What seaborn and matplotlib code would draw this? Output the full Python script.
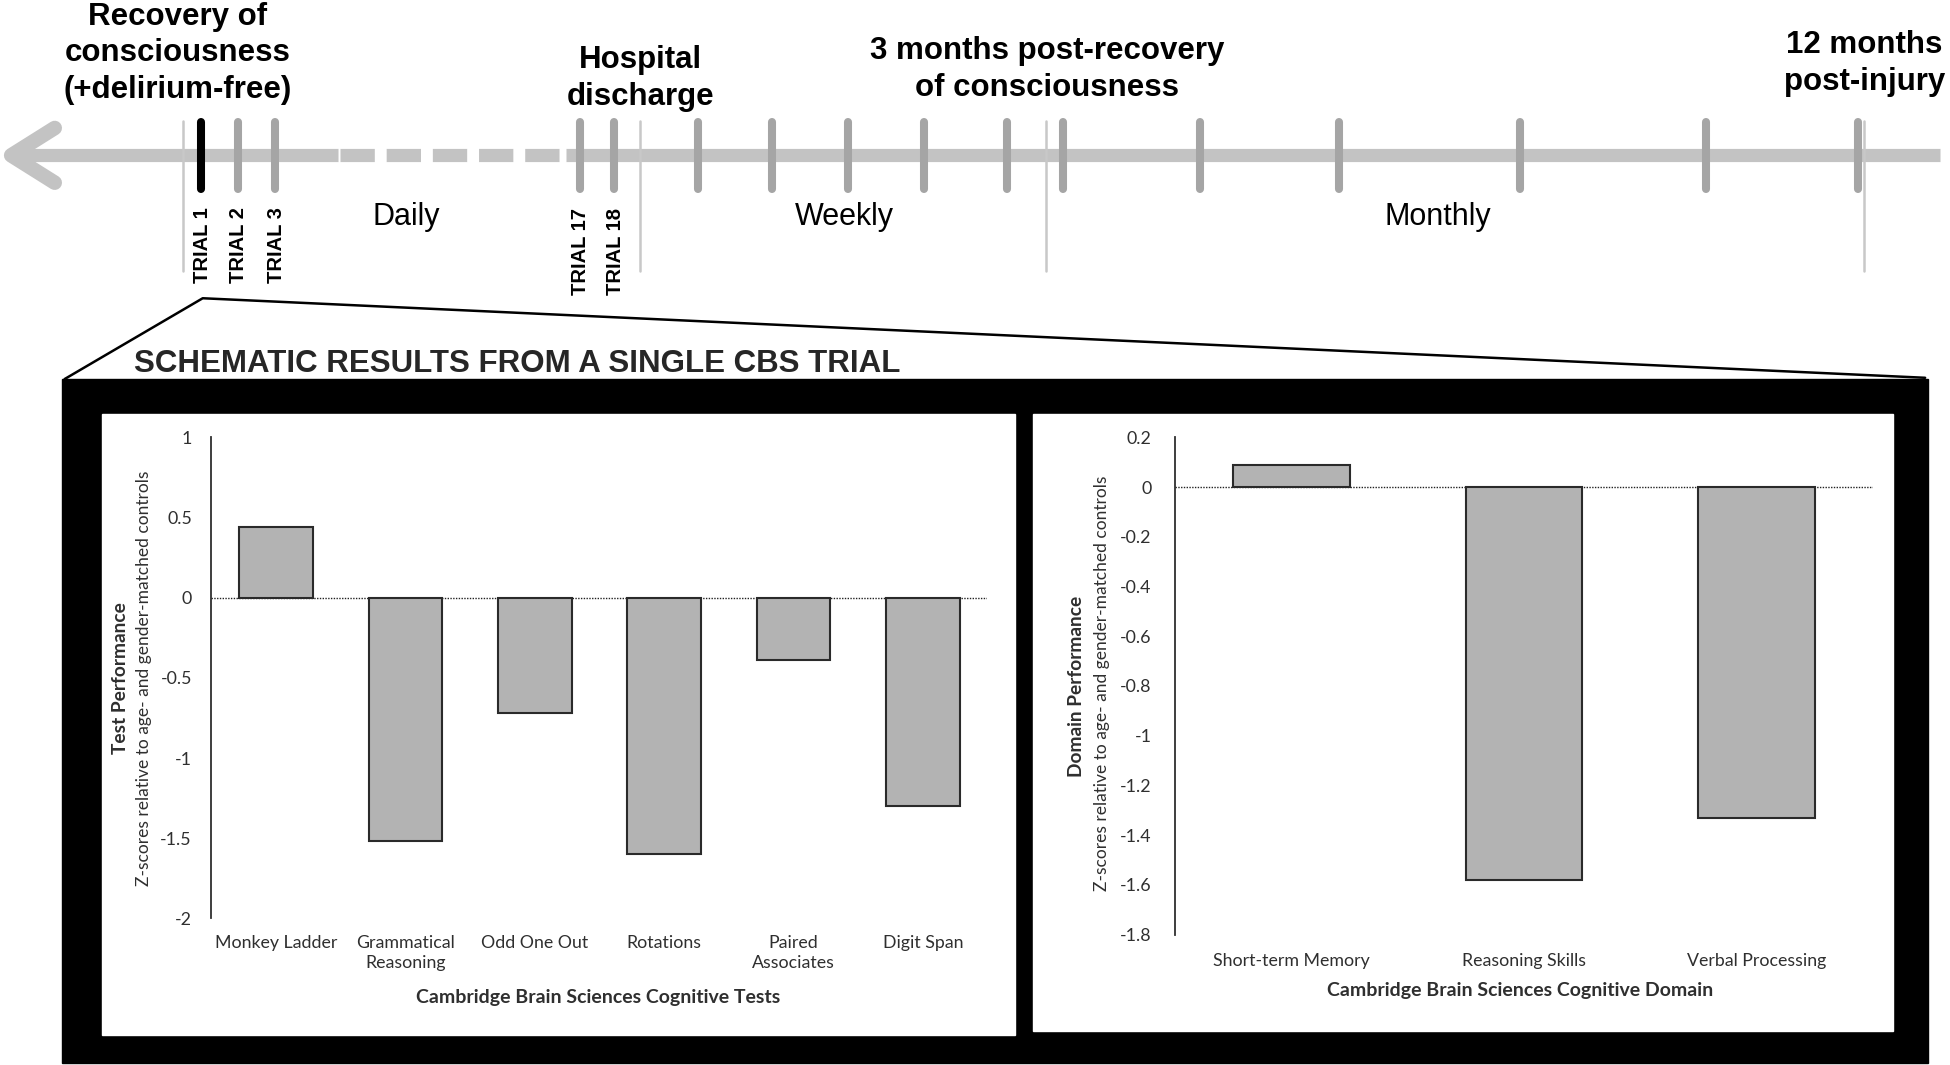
import matplotlib
matplotlib.use("Agg")
import matplotlib.pyplot as plt
import numpy as np
import pandas as pd
import seaborn as sns
from matplotlib.patches import Rectangle
from matplotlib.ticker import MultipleLocator, FuncFormatter

# ---- data ----
tests = ["Monkey Ladder", "Grammatical\nReasoning", "Odd One Out",
         "Rotations", "Paired\nAssociates", "Digit Span"]
test_scores = [0.44, -1.52, -0.72, -1.60, -0.39, -1.30]

domains = ["Short-term Memory", "Reasoning Skills", "Verbal Processing"]
domain_scores = [0.09, -1.58, -1.33]

trial_labels = ["TRIAL 1", "TRIAL 2", "TRIAL 3", "TRIAL 17", "TRIAL 18"]
trial_pos = [162, 191, 221, 466, 494]
weekly_pos = [561, 621, 682, 743, 810]
monthly_pos = [855, 965, 1077, 1222, 1372, 1494]
milestones = ["Recovery of\nconsciousness\n(+delirium-free)", "Hospital\ndischarge",
              "3 months post-recovery\nof consciousness", "12 months\npost-injury"]
milestone_pos = [147, 515, 841, 1499]
milestone_text_x = [143, 515, 842, 1499]
milestone_text_y = [43, 63, 56, 51]
phases = ["Daily", "Weekly", "Monthly"]
phase_pos = [327, 679, 1156]

# layout works in the 1568x857 reference frame
W, H = 1568, 857
LINE = "#c3c3c3"
TICK = "#a5a5a5"
INK = "#2f2f2f"
HEAD = "Liberation Sans"
BODY = "Lato"


def fx(x):
    return x / W


def fy(y):
    return 1 - y / H


sns.set_style("white")
plt.rcParams["axes.unicode_minus"] = False

fig = plt.figure(figsize=(19.5, 10.65), dpi=100)

# background canvas for timeline + frame
bg = fig.add_axes([0, 0, 1, 1], zorder=0)
bg.set_xlim(0, W)
bg.set_ylim(H, 0)
bg.axis("off")

# main timeline
y0 = 125
bg.plot([10, 272], [y0, y0], color=LINE, lw=9.5, solid_capstyle="butt", zorder=1)
bg.plot([273, 452], [y0, y0], color=LINE, lw=9.5, ls=(0, (2.6, 0.9)),
        dash_capstyle="butt", zorder=1)
bg.plot([455, 1560], [y0, y0], color=LINE, lw=9.5, solid_capstyle="butt", zorder=1)
bg.plot([44, 9, 44], [103, y0, 147], color=LINE, lw=10.5, solid_capstyle="round",
        solid_joinstyle="round", zorder=1)

for x in milestone_pos:
    bg.plot([x, x], [97, 218], color="#c8c8c8", lw=1.8, zorder=2)

for i, x in enumerate(trial_pos + weekly_pos + monthly_pos):
    c = "black" if i == 0 else TICK
    bg.plot([x, x], [98, 152], color=c, lw=5.8, solid_capstyle="round", zorder=3)

for s, x, ty in zip(milestones, milestone_text_x, milestone_text_y):
    bg.text(x, ty, s, ha="center", va="center", fontsize=22.5, fontweight="bold",
            family=HEAD, linespacing=1.3, color="black")

for s, x in zip(trial_labels, trial_pos):
    bg.text(x + 1, 167, s, rotation=90, ha="center", va="top", fontsize=14.5,
            fontweight="bold", family=HEAD, color="black")

for s, x in zip(phases, phase_pos):
    bg.text(x, 175, s, ha="center", va="center", fontsize=22, family=HEAD,
            color="black")

# zoom connector lines
bg.plot([52, 163, 1548], [305, 240, 304], color="black", lw=1.8, zorder=2)

bg.text(108, 293, "SCHEMATIC RESULTS FROM A SINGLE CBS TRIAL", ha="left",
        va="center", fontsize=22.5, fontweight="bold", family=HEAD)

# black frame with two white panels
bg.add_patch(Rectangle((50, 305), 1500, 550, color="black", zorder=2))
bg.add_patch(Rectangle((82, 333), 734, 500, color="white", zorder=3))
bg.add_patch(Rectangle((831, 333), 691, 497, color="white", zorder=3))


def style_axis(ax, step, pad_y, pad_x):
    ax.patch.set_visible(False)
    for side in ["top", "right", "bottom"]:
        ax.spines[side].set_visible(False)
    ax.spines["left"].set_color(INK)
    ax.spines["left"].set_linewidth(1.3)
    ax.yaxis.set_major_locator(MultipleLocator(step))
    ax.yaxis.set_major_formatter(FuncFormatter(lambda v, _: f"{round(v, 2):g}"))
    ax.tick_params(axis="y", length=0, pad=pad_y, labelsize=12.8, labelcolor=INK)
    ax.tick_params(axis="x", length=0, pad=pad_x, labelsize=12.8, labelcolor=INK)
    for lab in ax.get_xticklabels() + ax.get_yticklabels():
        lab.set_family(BODY)
        lab.set_linespacing(1.3)
    ax.axhline(0, color="#222222", lw=1, ls=(0, (1, 1)), zorder=0)
    ax.set_xlabel("")
    ax.set_ylabel("")


# left panel: cognitive tests
ax1 = fig.add_axes([fx(170), fy(739), fx(794) - fx(170), fy(352) - fy(739)], zorder=5)
df_tests = pd.DataFrame({"test": tests, "score": test_scores})
sns.barplot(data=df_tests, x="test", y="score", color="#b3b3b3", saturation=1,
            edgecolor="#2a2a2a", linewidth=1.5, width=0.57, ax=ax1)
ax1.set_ylim(-2, 1)
style_axis(ax1, 0.5, 14, 12)

# right panel: cognitive domains
ax2 = fig.add_axes([fx(945), fy(752), fx(1506) - fx(945), fy(352) - fy(752)], zorder=5)
df_dom = pd.DataFrame({"domain": domains, "score": domain_scores})
sns.barplot(data=df_dom, x="domain", y="score", color="#b3b3b3", saturation=1,
            edgecolor="#2a2a2a", linewidth=1.5, width=0.5, ax=ax2)
ax2.set_ylim(-1.8, 0.2)
style_axis(ax2, 0.2, 17, 13)

# axis titles as free text
for x, y, s in [(97, 546, "Test Performance"), (866, 552, "Domain Performance")]:
    fig.text(fx(x), fy(y), s, rotation=90, ha="center", va="center", fontsize=13.8,
             fontweight="bold", family=BODY, color=INK)
for x, y in [(116, 546), (886, 550)]:
    fig.text(fx(x), fy(y), "Z-scores relative to age- and gender-matched controls",
             rotation=90, ha="center", va="center", fontsize=12.5, family=BODY, color=INK)
fig.text(fx(481), fy(803), "Cambridge Brain Sciences Cognitive Tests", ha="center",
         va="center", fontsize=14, fontweight="bold", family=BODY, color=INK)
fig.text(fx(1222), fy(797), "Cambridge Brain Sciences Cognitive Domain", ha="center",
         va="center", fontsize=14, fontweight="bold", family=BODY, color=INK)

fig.savefig("out.png", dpi=100, facecolor="white")
